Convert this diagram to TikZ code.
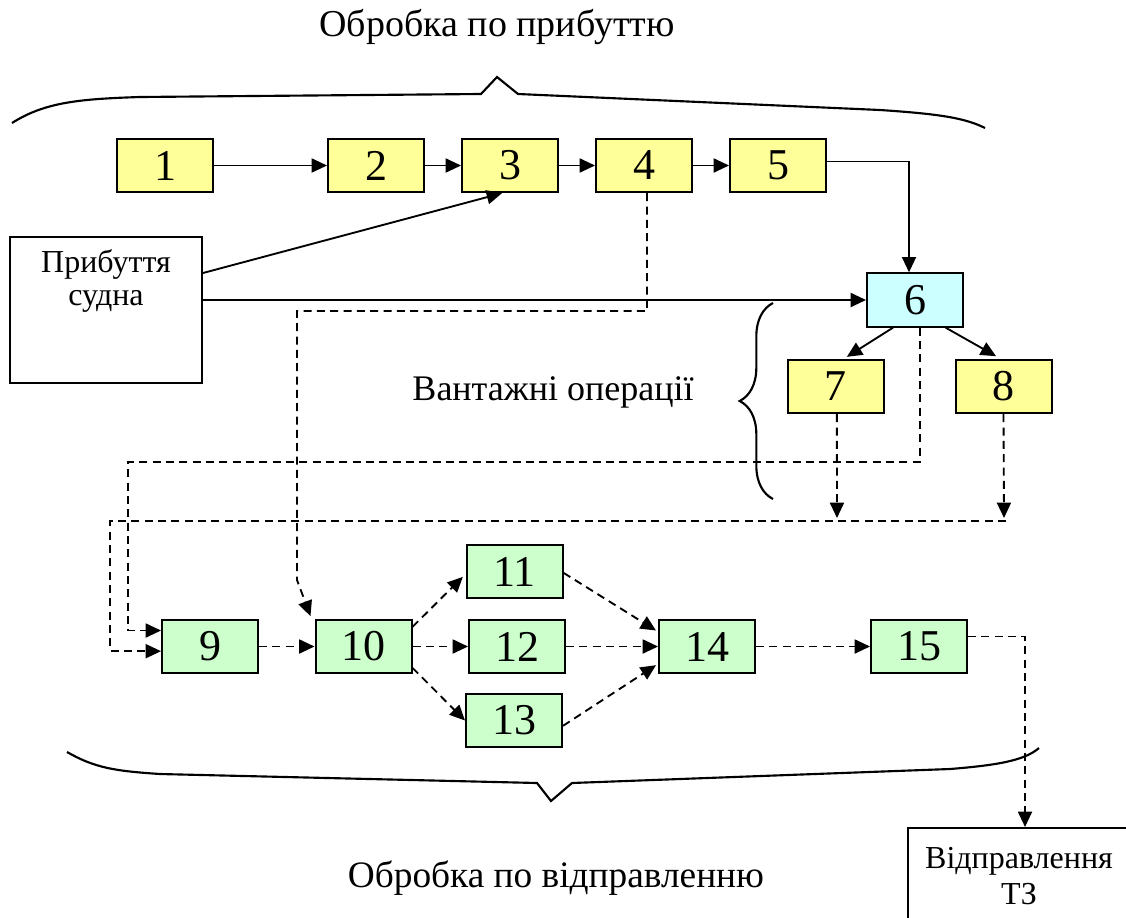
\documentclass[tikz,border=0pt]{standalone}
\usepackage{fontspec}
\setmainfont{Liberation Serif}
\usetikzlibrary{arrows.meta,decorations.pathreplacing,calc}
\definecolor{yel}{HTML}{FFFF99}
\definecolor{cyn}{HTML}{CCFFFF}
\definecolor{grn}{HTML}{CCFFCC}
\begin{document}
\begin{tikzpicture}[x=0.75pt,y=0.75pt,
  box/.style={draw, line width=1.5pt, minimum width=72pt, minimum height=40pt, inner sep=0pt, font=\fontsize{33}{36}\selectfont},
  ybox/.style={box, fill=yel},
  cbox/.style={box, fill=cyn},
  gbox/.style={box, fill=grn},
  conn/.style={line width=1.4pt, -{Triangle[length=11.5pt,width=10.5pt]}},
  dconn/.style={conn, dash pattern=on 6pt off 4pt},
  brc/.style={line width=1.6pt, line join=miter},
  lbl/.style={font=\fontsize{28.5}{32}\selectfont}]
\clip (0,0) rectangle (1126,-917);
% nodes
\node[ybox] (n1) at (165,-165.5) {1};
\node[ybox] (n2) at (376,-165.5) {2};
\node[ybox] (n3) at (510,-165.5) {3};
\node[ybox] (n4) at (644,-165.5) {4};
\node[ybox] (n5) at (778,-165.5) {5};
\node[cbox] (n6) at (915,-300) {6};
\node[ybox] (n7) at (835.5,-386.5) {7};
\node[ybox] (n8) at (1003.5,-386.5) {8};
\node[gbox] (n9) at (210,-646.5) {9};
\node[gbox] (n10) at (363.5,-646.5) {10};
\node[gbox] (n11) at (514.5,-571.5) {11};
\node[gbox] (n12) at (517,-646.5) {12};
\node[gbox] (n13) at (514,-720.5) {13};
\node[gbox] (n14) at (707,-646.5) {14};
\node[gbox] (n15) at (919,-646.5) {15};
\node[draw, line width=1.5pt, minimum width=144pt, minimum height=109.5pt, inner sep=0pt] (arr) at (106,-310) {};
\node[font=\fontsize{24}{25}\selectfont, align=center] (arrt) at (106,-281) {Прибуття\\судна};
\node[draw, line width=1.5pt, minimum width=166.5pt, minimum height=72pt, inner sep=0pt, align=center, font=\fontsize{24}{27}\selectfont] (vtz) at (1019,-876) {Відправлення\\ТЗ};
\node[lbl] (t1) at (497,-27) {Обробка по прибуттю};
\node[font=\fontsize{28}{32}\selectfont] (t2) at (556,-878) {Обробка по відправленню};
\node[font=\fontsize{27}{30}\selectfont] (t3) at (553,-392) {Вантажні операції};
% braces
\draw[brc] (12,-123) .. controls (45,-102) and (80,-99) .. (140,-97) -- (481,-94) -- (497,-77) -- (518,-94) -- (880,-110) .. controls (940,-114) and (965,-118) .. (985,-128);
\draw[brc] (67,-752) .. controls (95,-768) and (115,-771) .. (160,-774) -- (537,-783) -- (551,-801) -- (572,-783) -- (950,-769) .. controls (1000,-765) and (1025,-760) .. (1039,-748);
\draw[line width=1.6pt, decorate, decoration={brace, amplitude=25pt}] (773,-499) -- (773,-303);
% solid connectors
\draw[conn] (n1) -- (n2);
\draw[conn] (n2) -- (n3);
\draw[conn] (n3) -- (n4);
\draw[conn] (n4) -- (n5);
\draw[conn] ([yshift=3pt]n5.east) -| ([xshift=-4.5pt]n6.north);
\draw[conn] ([yshift=27.75pt]arr.east) -- ([xshift=-6pt]n3.south);
\draw[conn] (arr.east |- n6.west) -- (n6.west);
\draw[conn] ([xshift=-16.5pt]n6.south) -- ([xshift=8.5pt,yshift=1.5pt]n7.north);
\draw[conn] ([xshift=23pt]n6.south) -- ([xshift=-5.6pt,yshift=2pt]n8.north);
% dashed connectors
\coordinate (j1) at (297,-311);
\coordinate (j2) at (297,-580);
\coordinate (j3) at (128,-462);
\coordinate (j4) at (837,-518);
\coordinate (j5) at (1004,-518);
\coordinate (j6) at (1006,-521);
\coordinate (j7) at (110,-521);
\draw[dconn] ([xshift=2.25pt]n4.south) |- (j1) -- (j2) -- ([xshift=-3pt,yshift=2pt]n10.north west);
\draw[dconn] ([xshift=3.5pt]n6.south) |- (j3) |- ([yshift=12pt]n9.west);
\draw[dconn] ([xshift=1pt]n7.south) -- (j4);
\draw[dconn] (n8.south) -- (j5);
\draw[dconn] (j6) -- (j7) |- ([yshift=-3.5pt]n9.west);
\draw[dconn] (n9) -- (n10);
\draw[dconn] ([yshift=-6pt]n10.north east) -- ([xshift=-2pt,yshift=-4pt]n11.west);
\draw[dconn] (n10) -- (n12);
\draw[dconn] ([yshift=-16pt]n10.east) -- (n13.west);
\draw[dconn] ([yshift=-1pt]n11.east) -- ([xshift=-1.5pt,yshift=12pt]n14.west);
\draw[dconn] (n12) -- (n14);
\draw[dconn] ([yshift=-4pt]n13.east) -- ([xshift=-1.5pt,yshift=-14pt]n14.west);
\draw[dconn] (n14) -- (n15);
\draw[dconn] ([yshift=7.5pt]n15.east) -| ([xshift=4.5pt]vtz.north);
\end{tikzpicture}
\end{document}
